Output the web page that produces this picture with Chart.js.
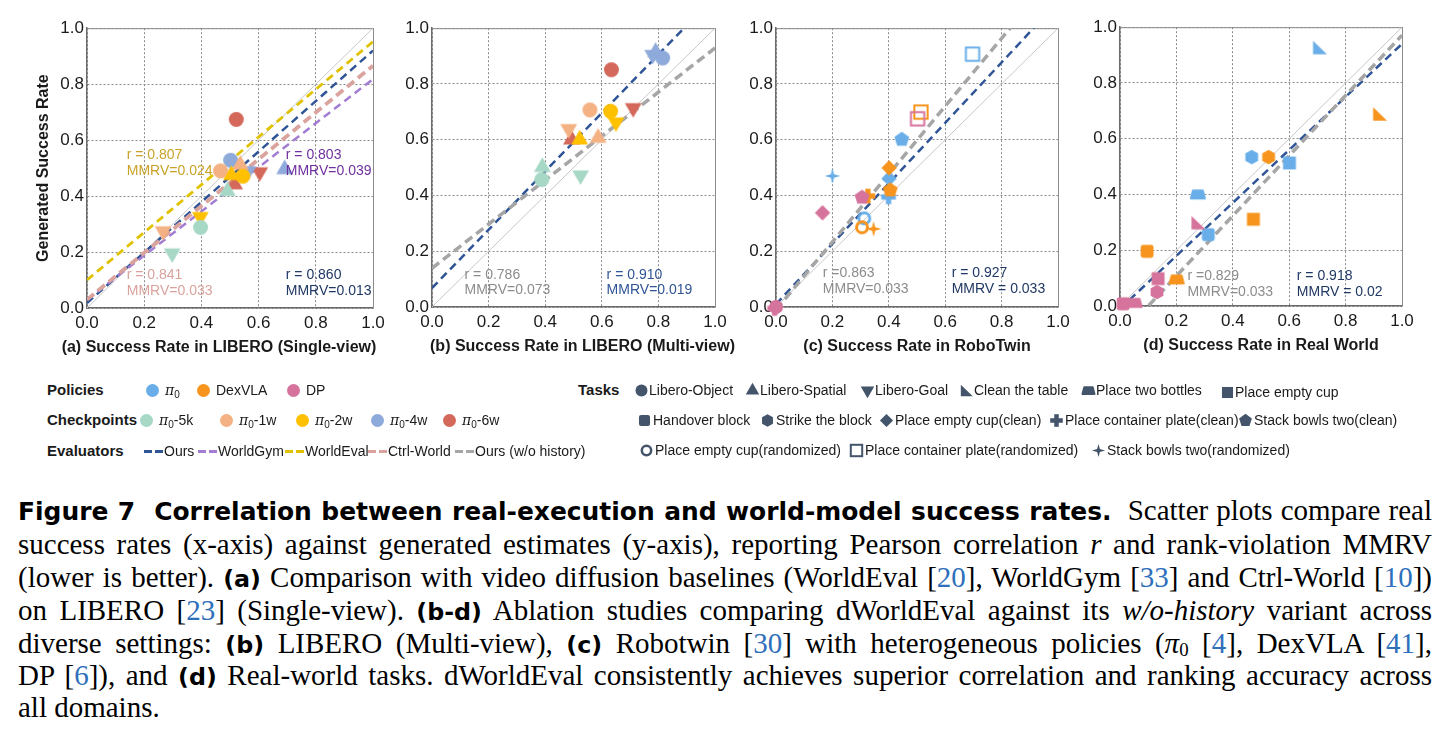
<!DOCTYPE html>
<html><head><meta charset="utf-8">
<script src="https://cdn.jsdelivr.net/npm/chart.js@4.4.1/dist/chart.umd.min.js"></script>
<style>
html,body{margin:0;padding:0;background:#fff;}
#wrap{position:relative;width:1449px;height:732px;overflow:hidden;background:#fff;font-family:"Liberation Sans",Arial,sans-serif;color:#1a1a1a;}
canvas.panel{position:absolute;}
.lg{position:absolute;white-space:nowrap;font-size:14px;line-height:20px;height:20px;}
.lgh{position:absolute;white-space:nowrap;font-size:15px;font-weight:bold;line-height:20px;}
.pi{font-family:"DejaVu Serif",serif;font-style:italic;}
.lg sub{font-size:10px;vertical-align:-3px;line-height:0;}
.ic{position:absolute;}
.cap{position:absolute;left:18px;width:1414px;font-family:"Liberation Serif","Times New Roman",serif;font-size:26px;line-height:32px;white-space:nowrap;text-align:justify;text-align-last:justify;color:#000;}
.cap.last{text-align-last:left;}
.cap.meas{text-align:left !important;text-align-last:left !important;}
.cap b{font-family:"DejaVu Sans","Liberation Sans",sans-serif;font-weight:700;font-size:0.82em;}
.cap b.ttl{font-size:0.86em;}
.cap .c{color:#2e6fbb;}
.cap sub{font-size:0.65em;vertical-align:-0.15em;line-height:0;}
</style></head>
<body><div id="wrap">
<canvas id="pa" class="panel"></canvas>
<canvas id="pb" class="panel"></canvas>
<canvas id="pc" class="panel"></canvas>
<canvas id="pd" class="panel"></canvas>
<div id="legend"></div>
<div class="cap" style="top:494px"><span class="in"><b class="ttl">Figure 7&nbsp; Correlation between real-execution and world-model success rates.</b>&nbsp; Scatter plots compare real</span></div>
<div class="cap" style="top:528px"><span class="in">success rates (x-axis) against generated estimates (y-axis), reporting Pearson correlation <i>r</i> and rank-violation MMRV</span></div>
<div class="cap" style="top:561px"><span class="in">(lower is better). <b>(a)</b> Comparison with video diffusion baselines (WorldEval [<span class="c">20</span>], WorldGym [<span class="c">33</span>] and Ctrl-World [<span class="c">10</span>])</span></div>
<div class="cap" style="top:594px"><span class="in">on LIBERO [<span class="c">23</span>] (Single-view). <b>(b-d)</b> Ablation studies comparing dWorldEval against its <i>w/o-history</i> variant across</span></div>
<div class="cap" style="top:627px"><span class="in">diverse settings: <b>(b)</b> LIBERO (Multi-view), <b>(c)</b> Robotwin [<span class="c">30</span>] with heterogeneous policies (<i>π</i><sub>0</sub> [<span class="c">4</span>], DexVLA [<span class="c">41</span>],</span></div>
<div class="cap" style="top:659px"><span class="in">DP [<span class="c">6</span>]), and <b>(d)</b> Real-world tasks. dWorldEval consistently achieves superior correlation and ranking accuracy across</span></div>
<div class="cap last" style="top:691px"><span class="in">all domains.</span></div>
</div>
<script>
// ---------------- DATA ----------------
const TICKS = [0.0, 0.2, 0.4, 0.6, 0.8, 1.0];

// Panel (a) LIBERO single-view
const A_CKPT = ['π0-6w','π0-6w','π0-6w','π0-4w','π0-4w','π0-4w','π0-1w','π0-1w','π0-1w','π0-2w','π0-2w','π0-2w','π0-5k','π0-5k','π0-5k'];
const A_TASK = ['Libero-Object','Libero-Spatial','Libero-Goal','Libero-Object','Libero-Spatial','Libero-Goal','Libero-Object','Libero-Spatial','Libero-Goal','Libero-Object','Libero-Spatial','Libero-Goal','Libero-Object','Libero-Spatial','Libero-Goal'];
const A_REAL = [0.522,0.516,0.604, 0.502,0.691,0.563, 0.467,0.536,0.266, 0.545,0.505,0.396, 0.397,0.491,0.298];
const A_GEN  = [0.674,0.442,0.486, 0.528,0.496,0.490, 0.490,0.512,0.275, 0.471,0.475,0.326, 0.288,0.418,0.196];
const A_FIT_OURS = [0.018, 0.920];   // y at x=0, x=1
const A_FIT_GYM  = [0.030, 0.818];
const A_FIT_EVAL = [0.100, 0.952];
const A_FIT_CTRL = [0.030, 0.866];
const A_STATS = [['r = 0.807','MMRV=0.024'],['r = 0.803','MMRV=0.039'],['r = 0.841','MMRV=0.033'],['r = 0.860','MMRV=0.013']];

// Panel (b) LIBERO multi-view
const B_CKPT = A_CKPT.slice();
const B_TASK = A_TASK.slice();
const B_REAL = [0.634,0.493,0.711, 0.815,0.790,0.780, 0.558,0.587,0.483, 0.631,0.522,0.650, 0.388,0.390,0.525];
const B_GEN  = [0.851,0.601,0.714, 0.893,0.915,0.905, 0.707,0.607,0.639, 0.702,0.601,0.663, 0.457,0.502,0.473];
const B_FIT_OURS = [0.068, 1.115];
const B_FIT_WO   = [0.139, 0.929];
const B_STATS = [['r = 0.786','MMRV=0.073'],['r = 0.910','MMRV=0.019']];

// Panel (c) RoboTwin
const C_POLICY = ['π0','π0','π0','π0','π0','π0','DexVLA','DexVLA','DexVLA','DexVLA','DexVLA','DexVLA','DP','DP','DP','DP','DP','DP'];
const C_TASK = ['Place empty cup(randomized)','Place container plate(randomized)','Stack bowls two(randomized)','Place empty cup(clean)','Place container plate(clean)','Stack bowls two(clean)',
                'Place empty cup(randomized)','Place container plate(randomized)','Stack bowls two(randomized)','Place empty cup(clean)','Place container plate(clean)','Stack bowls two(clean)',
                'Place empty cup(randomized)','Place container plate(randomized)','Stack bowls two(randomized)','Place empty cup(clean)','Place container plate(clean)','Stack bowls two(clean)'];
const C_REAL = [0.313,0.697,0.200,0.401,0.399,0.446, 0.305,0.514,0.346,0.401,0.326,0.405, 0.000,0.502,0.004,0.165,-0.005,0.305];
const C_GEN  = [0.318,0.907,0.470,0.461,0.395,0.601, 0.286,0.699,0.280,0.499,0.398,0.419, 0.000,0.675,0.000,0.338,-0.005,0.393];
const C_FIT_OURS = [0.010, 1.094];
const C_FIT_WO   = [-0.010, 1.207];
const C_STATS = [['r =0.863','MMRV=0.033'],['r = 0.927','MMRV = 0.033']];

// Panel (d) Real world
const D_POLICY = ['π0','π0','π0','π0','π0','DexVLA','DexVLA','DexVLA','DexVLA','DexVLA','DP','DP','DP','DP','DP'];
const D_TASK = ['Clean the table','Place two bottles','Place empty cup','Handover block','Strike the block',
                'Clean the table','Place two bottles','Place empty cup','Handover block','Strike the block',
                'Clean the table','Place two bottles','Place empty cup','Handover block','Strike the block'];
const D_REAL = [0.708,0.276,0.601,0.313,0.467, 0.921,0.201,0.473,0.096,0.527, 0.277,0.052,0.135,0.011,0.131];
const D_GEN  = [0.927,0.401,0.513,0.256,0.534, 0.689,0.096,0.311,0.196,0.534, 0.299,0.012,0.098,0.008,0.050];
const D_FIT_OURS = [-0.010, 0.940];
const D_FIT_WO   = [-0.108, 0.971];
const D_STATS = [['r =0.829','MMRV=0.033'],['r = 0.918','MMRV = 0.02']];

// Legend categories
const POLICIES = ['π0','DexVLA','DP'];
const CHECKPOINTS = ['π0-5k','π0-1w','π0-2w','π0-4w','π0-6w'];
const EVALUATORS = ['Ours','WorldGym','WorldEval','Ctrl-World','Ours (w/o history)'];
const TASKS_ROW1 = ['Libero-Object','Libero-Spatial','Libero-Goal','Clean the table','Place two bottles','Place empty cup'];
const TASKS_ROW2 = ['Handover block','Strike the block','Place empty cup(clean)','Place container plate(clean)','Stack bowls two(clean)'];
const TASKS_ROW3 = ['Place empty cup(randomized)','Place container plate(randomized)','Stack bowls two(randomized)'];

// ---------------- STYLES ----------------
const CKPT_COLOR = {'π0-5k':'#a7d8c6','π0-1w':'#f4b183','π0-2w':'#ffc000','π0-4w':'#8eaadb','π0-6w':'#d4695b'};
const POLICY_COLOR = {'π0':'#69aee8','DexVLA':'#f7941d','DP':'#d6739c'};
const EVAL_STYLE = {
  'Ours':{color:'#2f5597',width:2.5,dash:[8,5]},
  'WorldGym':{color:'#a27dd3',width:2.5,dash:[8,5]},
  'WorldEval':{color:'#e0c200',width:2.8,dash:[8,5]},
  'Ctrl-World':{color:'#dba39d',width:3.8,dash:[9,5]},
  'Ours (w/o history)':{color:'#a6a6a6',width:3.5,dash:[9,5]}
};
const TASK_SHAPE = {'Libero-Object':'circle','Libero-Spatial':'triUp','Libero-Goal':'triDown','Clean the table':'corner',
  'Place two bottles':'trap','Place empty cup':'square','Handover block':'rrect','Strike the block':'hex',
  'Place empty cup(clean)':'diamond','Place container plate(clean)':'plus','Stack bowls two(clean)':'pent',
  'Place empty cup(randomized)':'ring','Place container plate(randomized)':'openSquare','Stack bowls two(randomized)':'star4'};
const TASK_ICON_COLOR = '#44546a';

function makeMarker(shape, color, r) {
  const s = Math.ceil(r*2.8 + 6);
  const c = document.createElement('canvas');
  c.width = s; c.height = s;
  const g = c.getContext('2d');
  g.translate(s/2, s/2);
  g.fillStyle = color; g.strokeStyle = color;
  const poly = (pts) => { g.beginPath(); pts.forEach((p,i)=> i ? g.lineTo(p[0],p[1]) : g.moveTo(p[0],p[1])); g.closePath(); g.fill(); };
  const reg = (n, R, rot) => { const pts=[]; for (let i=0;i<n;i++){ const a=rot+i*2*Math.PI/n; pts.push([R*Math.cos(a),R*Math.sin(a)]);} return pts; };
  switch (shape) {
    case 'circle': g.beginPath(); g.arc(0,0,r,0,2*Math.PI); g.fill(); break;
    case 'triUp': { const R=r*1.3; poly([[0,-R],[R*0.866,R*0.5],[-R*0.866,R*0.5]]); break; }
    case 'triDown': { const R=r*1.3; poly([[0,R],[R*0.866,-R*0.5],[-R*0.866,-R*0.5]]); break; }
    case 'corner': { const a=r*0.95; poly([[-a,-a],[-a,a],[a*1.1,a]]); break; }
    case 'trap': { g.lineJoin='round'; g.lineWidth=2; g.beginPath(); g.moveTo(-r,0.6*r); g.lineTo(r,0.6*r); g.lineTo(0.7*r,-0.55*r); g.lineTo(-0.7*r,-0.55*r); g.closePath(); g.fill(); g.stroke(); break; }
    case 'square': { const a=r*0.92; g.fillRect(-a,-a,2*a,2*a); break; }
    case 'rrect': { const a=r*0.92, rr=r*0.35; g.beginPath(); g.roundRect(-a,-a,2*a,2*a,rr); g.fill(); break; }
    case 'hex': poly(reg(6, r*1.05, -Math.PI/2)); break;
    case 'diamond': { const R=r*1.1; poly([[0,-R],[R,0],[0,R],[-R,0]]); break; }
    case 'plus': { const w=r*0.75, L=r*1.05; g.fillRect(-L,-w/2,2*L,w); g.fillRect(-w/2,-L,w,2*L); break; }
    case 'pent': poly(reg(5, r*1.12, -Math.PI/2)); break;
    case 'ring': g.lineWidth=r*0.42; g.beginPath(); g.arc(0,0,r*0.78,0,2*Math.PI); g.stroke(); break;
    case 'openSquare': { g.lineWidth=2; const a=r*0.95; g.strokeRect(-a,-a,2*a,2*a); break; }
    case 'star4': { const R=r*1.1, ri=R*0.3, pts=[]; for (let i=0;i<8;i++){ const a=-Math.PI/2+i*Math.PI/4, rad=i%2?ri:R; pts.push([rad*Math.cos(a),rad*Math.sin(a)]);} poly(pts); break; }
  }
  return c;
}

// ---------------- PLUGINS ----------------
const framePlugin = {
  id:'frame',
  beforeDatasetsDraw(chart) {
    const {ctx, chartArea:a} = chart;
    ctx.save();
    ctx.strokeStyle = '#8c8c8c'; ctx.lineWidth = 1;
    ctx.beginPath();
    ctx.moveTo(a.left, a.top+0.5); ctx.lineTo(a.right+0.5, a.top+0.5); ctx.lineTo(a.right+0.5, a.bottom);
    ctx.stroke();
    ctx.restore();
  }
};
const statPlugin = {
  id:'stats',
  afterDatasetsDraw(chart, args, opts) {
    const {ctx, scales:{x,y}} = chart;
    ctx.save();
    ctx.font = '14px "Liberation Sans", Arial, sans-serif';
    ctx.textBaseline = 'middle'; ctx.textAlign = 'left';
    (opts.items||[]).forEach(it => {
      ctx.fillStyle = it.color;
      const px = x.getPixelForValue(it.x), py = y.getPixelForValue(it.y);
      ctx.fillText(it.lines[0], px, py);
      ctx.fillText(it.lines[1], px, py + 15.5);
    });
    ctx.restore();
  }
};
const xTitlePlugin = {
  id:'xtitle',
  afterDraw(chart, args, opts) {
    const {ctx, chartArea:a} = chart;
    ctx.save();
    ctx.font = 'bold 16px "Liberation Sans", Arial, sans-serif';
    ctx.fillStyle = '#1a1a1a'; ctx.textAlign = 'center'; ctx.textBaseline = 'middle';
    ctx.fillText(opts.text, (a.left + a.right)/2 + (opts.dx||0), a.bottom + 40);
    ctx.restore();
  }
};

Chart.defaults.font.family = '"Liberation Sans", Arial, sans-serif';
Chart.defaults.color = '#1a1a1a';

function fitLine(fit, evalName) {
  const st = EVAL_STYLE[evalName];
  return {type:'scatter', data:[{x:0,y:fit[0]},{x:1,y:fit[1]}], showLine:true, pointRadius:0,
    borderColor:st.color, borderWidth:st.width, borderDash:st.dash, fill:false, order:2};
}
function identityLine() {
  return {type:'scatter', data:[{x:0,y:0},{x:1,y:1}], showLine:true, pointRadius:0, borderColor:'#c8c8c8', borderWidth:1, order:5};
}
function pointSet(real, gen, colors, tasks, r) {
  return {type:'scatter', data: real.map((v,i)=>({x:v, y:gen[i]})),
    pointStyle: real.map((_,i)=>makeMarker(TASK_SHAPE[tasks[i]], colors[i], r)),
    pointRadius: 8, pointHoverRadius: 8, clip:false, order:1};
}

function buildPanel(id, g, datasets, stats, xTitle, dx, yTitle) {
  const cv = document.getElementById(id);
  const w = g.yW + g.aw + g.padR, h = g.padT + g.ah + g.xH;
  cv.width = w; cv.height = h;
  cv.style.left = g.left + 'px'; cv.style.top = g.top + 'px';
  cv.style.width = w + 'px'; cv.style.height = h + 'px';
  const tickFont = {size:17};
  new Chart(cv, {
    type:'scatter',
    data:{datasets},
    options:{
      responsive:false, animation:false, devicePixelRatio:1, events:[],
      layout:{padding:{left:0,right:g.padR,top:g.padT,bottom:0}},
      plugins:{legend:{display:false}, tooltip:{enabled:false}, stats:{items:stats}, xtitle:{text:xTitle, dx:dx}},
      scales:{
        x:{type:'linear', min:0, max:1,
           afterBuildTicks: s => { s.ticks = TICKS.map(v=>({value:v})); },
           ticks:{font:tickFont, color:'#1a1a1a', padding:5, maxRotation:0, callback:v=>Number(v).toFixed(1)},
           grid:{color:'#8a8a8a', lineWidth:1, drawTicks:false},
           border:{display:true, color:'#6b6b6b', width:1.5, dash:[2,2]},
           afterFit: s => { s.height = g.xH; }},
        y:{type:'linear', min:0, max:1,
           afterBuildTicks: s => { s.ticks = TICKS.map(v=>({value:v})); },
           ticks:{font:tickFont, color:'#1a1a1a', padding:3, callback:v=>Number(v).toFixed(1)},
           grid:{color:'#8a8a8a', lineWidth:1, drawTicks:false},
           border:{display:true, color:'#6b6b6b', width:1.5, dash:[2,2]},
           title:{display:!!yTitle, text:yTitle||'', font:{size:16, weight:'bold'}, color:'#1a1a1a', padding:0},
           afterFit: s => { s.width = g.yW; }}
      }
    },
    plugins:[framePlugin, statPlugin, xTitlePlugin]
  });
}

// Panel (a)
buildPanel('pa', {left:34, top:15, yW:53, aw:286, ah:281, padT:12, padR:20, xH:50}, [
  identityLine(),
  fitLine(A_FIT_EVAL,'WorldEval'), fitLine(A_FIT_CTRL,'Ctrl-World'), fitLine(A_FIT_GYM,'WorldGym'), fitLine(A_FIT_OURS,'Ours'),
  pointSet(A_REAL, A_GEN, A_CKPT.map(c=>CKPT_COLOR[c]), A_TASK, 7.5)
], [
  {x:0.139, y:0.545, color:'#c9a227', lines:A_STATS[0]},
  {x:0.695, y:0.545, color:'#7030a0', lines:A_STATS[1]},
  {x:0.139, y:0.117, color:'#d9a29c', lines:A_STATS[2]},
  {x:0.695, y:0.117, color:'#203864', lines:A_STATS[3]}
], '(a) Success Rate in LIBERO (Single-view)', -11, 'Generated Success Rate');

// Panel (b)
buildPanel('pb', {left:382, top:15, yW:50, aw:283, ah:280, padT:12, padR:20, xH:50}, [
  identityLine(),
  fitLine(B_FIT_WO,'Ours (w/o history)'), fitLine(B_FIT_OURS,'Ours'),
  pointSet(B_REAL, B_GEN, B_CKPT.map(c=>CKPT_COLOR[c]), B_TASK, 7.5)
], [
  {x:0.115, y:0.116, color:'#8c8c8c', lines:B_STATS[0]},
  {x:0.617, y:0.116, color:'#2f5597', lines:B_STATS[1]}
], '(b) Success Rate in LIBERO (Multi-view)', 9);

// Panel (c)
buildPanel('pc', {left:726, top:15, yW:50, aw:282, ah:280, padT:12, padR:20, xH:50}, [
  identityLine(),
  fitLine(C_FIT_WO,'Ours (w/o history)'), fitLine(C_FIT_OURS,'Ours'),
  pointSet(C_REAL, C_GEN, C_POLICY.map(p=>POLICY_COLOR[p]), C_TASK, 7)
], [
  {x:0.166, y:0.121, color:'#8c8c8c', lines:C_STATS[0]},
  {x:0.623, y:0.121, color:'#203864', lines:C_STATS[1]}
], '(c) Success Rate in RoboTwin', 0);

// Panel (d)
buildPanel('pd', {left:1070, top:14, yW:50, aw:282, ah:280, padT:12, padR:20, xH:50}, [
  identityLine(),
  fitLine(D_FIT_WO,'Ours (w/o history)'), fitLine(D_FIT_OURS,'Ours'),
  pointSet(D_REAL, D_GEN, D_POLICY.map(p=>POLICY_COLOR[p]), D_TASK, 7)
], [
  {x:0.239, y:0.107, color:'#8c8c8c', lines:D_STATS[0]},
  {x:0.627, y:0.107, color:'#203864', lines:D_STATS[1]}
], '(d) Success Rate in Real World', 0);

// ---------------- LEGEND ----------------
const legend = document.getElementById('legend');
function piLabel(name) {
  return name.replace('π0', '<span class="pi">π</span><sub>0</sub>');
}
function addText(cls, html, x, yc) {
  const d = document.createElement('div');
  d.className = cls; d.innerHTML = html;
  d.style.left = x + 'px'; d.style.top = (yc - 10) + 'px';
  legend.appendChild(d);
}
function addIcon(canvas, xc, yc) {
  canvas.className = 'ic';
  canvas.style.left = (xc - canvas.width/2) + 'px';
  canvas.style.top = (yc - canvas.height/2) + 'px';
  legend.appendChild(canvas);
}
function addDash(color, x, yc) {
  for (let k=0;k<2;k++) {
    const d = document.createElement('div');
    d.style.cssText = `position:absolute;left:${x+k*11}px;top:${yc-1.5}px;width:8px;height:3px;background:${color};`;
    legend.appendChild(d);
  }
}
const ROW = [390, 420, 451];
addText('lgh','Policies',47,ROW[0]);
addText('lgh','Checkpoints',47,ROW[1]);
addText('lgh','Evaluators',47,ROW[2]);
addText('lgh','Tasks',578,ROW[0]);

const POL_X = [152, 203, 293];
POLICIES.forEach((p,i)=>{ addIcon(makeMarker('circle', POLICY_COLOR[p], 6.5), POL_X[i], ROW[0]); addText('lg', piLabel(p), POL_X[i]+13, ROW[0]); });
const CK_X = [146, 226, 302, 377, 449];
CHECKPOINTS.forEach((c,i)=>{ addIcon(makeMarker('circle', CKPT_COLOR[c], 6.5), CK_X[i], ROW[1]); addText('lg', piLabel(c), CK_X[i]+13, ROW[1]); });
const EV_X = [144, 198, 285, 368, 455];
EVALUATORS.forEach((e,i)=>{ addDash(EVAL_STYLE[e].color, EV_X[i], ROW[2]); addText('lg', e, EV_X[i]+20, ROW[2]); });

const T1_X = [641, 752, 867, 966, 1088, 1227];
TASKS_ROW1.forEach((t,i)=>{ addIcon(makeMarker(TASK_SHAPE[t], TASK_ICON_COLOR, 6), T1_X[i], ROW[0] + (i===5?2:0)); addText('lg', t, T1_X[i]+8, ROW[0] + (i===5?2:0)); });
const T2_X = [644, 767, 886, 1056, 1245];
TASKS_ROW2.forEach((t,i)=>{ addIcon(makeMarker(TASK_SHAPE[t], TASK_ICON_COLOR, 6), T2_X[i], ROW[1]); addText('lg', t, T2_X[i]+9, ROW[1]); });
const T3_X = [646, 856, 1098];
TASKS_ROW3.forEach((t,i)=>{ addIcon(makeMarker(TASK_SHAPE[t], TASK_ICON_COLOR, 6), T3_X[i], ROW[2]-1); addText('lg', t, T3_X[i]+9, ROW[2]-1); });

// ---------------- CAPTION FIT ----------------
(function fitCaption(){
  const caps = [...document.querySelectorAll('.cap')];
  caps.forEach(c => c.classList.add('meas'));
  let scale = Infinity;
  caps.forEach(c => {
    if (c.classList.contains('last')) return;
    const w = c.querySelector('.in').getBoundingClientRect().width;
    scale = Math.min(scale, 1414 / w);
  });
  const size = 26 * scale * 0.992;
  caps.forEach(c => { c.style.fontSize = size.toFixed(2) + 'px'; c.classList.remove('meas'); });
})();
</script>
</body></html>
